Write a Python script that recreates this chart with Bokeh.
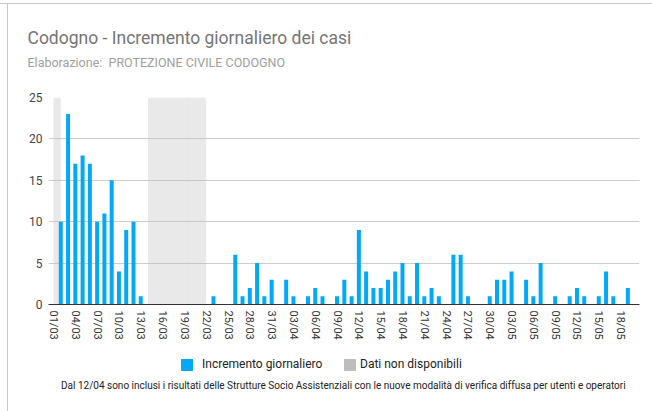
from bokeh.plotting import figure
from bokeh.models import ColumnDataSource, FixedTicker, Title, Range1d, Div
from bokeh.layouts import column
from bokeh.embed import file_html
from bokeh.resources import INLINE

# ---- data ----
dates = [
    "01/03", "02/03", "03/03", "04/03", "05/03", "06/03", "07/03", "08/03", "09/03", "10/03",
    "11/03", "12/03", "13/03", "14/03", "15/03", "16/03", "17/03", "18/03", "19/03", "20/03",
    "21/03", "22/03", "23/03", "24/03", "25/03", "26/03", "27/03", "28/03", "29/03", "30/03",
    "31/03", "01/04", "02/04", "03/04", "04/04", "05/04", "06/04", "07/04", "08/04", "09/04",
    "10/04", "11/04", "12/04", "13/04", "14/04", "15/04", "16/04", "17/04", "18/04", "19/04",
    "20/04", "21/04", "22/04", "23/04", "24/04", "25/04", "26/04", "27/04", "28/04", "29/04",
    "30/04", "01/05", "02/05", "03/05", "04/05", "05/05", "06/05", "07/05", "08/05", "09/05",
    "10/05", "11/05", "12/05", "13/05", "14/05", "15/05", "16/05", "17/05", "18/05", "19/05",
]
incremento = [
    0, 10, 23, 17, 18, 17, 10, 11, 15, 4,
    9, 10, 1, 0, 0, 0, 0, 0, 0, 0,
    0, 0, 1, 0, 0, 6, 1, 2, 5, 1,
    3, 0, 3, 1, 0, 1, 2, 1, 0, 1,
    3, 1, 9, 4, 2, 2, 3, 4, 5, 1,
    5, 1, 2, 1, 0, 6, 6, 1, 0, 0,
    1, 3, 3, 4, 0, 3, 1, 5, 0, 1,
    0, 1, 2, 1, 0, 1, 4, 1, 0, 2,
]
non_disponibili = ["01/03", "14/03", "15/03", "16/03", "17/03", "18/03", "19/03", "20/03", "21/03"]
y_ticks = [0, 5, 10, 15, 20, 25]
tick_every = 3

title_text = "Codogno - Incremento giornaliero dei casi"
subtitle_text = "Elaborazione:  PROTEZIONE CIVILE CODOGNO"
legend_labels = ["Incremento giornaliero", "Dati non disponibili"]
note_text = ("Dal 12/04 sono inclusi i risultati delle Strutture Socio Assistenziali "
             "con le nuove modalità di verifica diffusa per utenti e operatori")

BLUE = "#03a9f4"
GREY = "#bdbdbd"
FONT = "Roboto"

idx = list(range(len(dates)))
src = ColumnDataSource(dict(x=idx, top=incremento))
gap_x = [dates.index(d) + 0.5 for d in non_disponibili]
gap_src = ColumnDataSource(dict(x=gap_x, top=[max(y_ticks)] * len(gap_x)))

p = figure(width=652, height=355, output_backend="svg", toolbar_location=None,
           x_range=Range1d(-0.69, 80.6), y_range=Range1d(0, 25),
           min_border_left=48, min_border_right=13, min_border_top=97, min_border_bottom=51)
p.outline_line_color = None
p.background_fill_color = "white"
p.border_fill_color = "white"

p.vbar(x="x", top="top", width=1.0, source=gap_src, fill_color=GREY, fill_alpha=0.33,
       line_color=None)
p.vbar(x="x", top="top", width=0.55, source=src, fill_color=BLUE, line_color=None)

# axes
p.xaxis.ticker = FixedTicker(ticks=idx[::tick_every])
p.xaxis.major_label_overrides = {i: dates[i] for i in idx[::tick_every]}
p.xaxis.major_label_orientation = "vertical"
p.xaxis.major_label_text_font = FONT
p.xaxis.major_label_text_font_size = "11px"
p.xaxis.major_label_text_color = "#333333"
p.xaxis.major_tick_line_color = None
p.xaxis.minor_tick_line_color = None
p.xaxis.major_tick_out = 0
p.xaxis.minor_tick_out = 0
p.xaxis.axis_line_color = "#333333"
p.xaxis.major_label_standoff = 6

p.yaxis.ticker = FixedTicker(ticks=y_ticks)
p.yaxis.major_label_text_font = FONT
p.yaxis.major_label_text_font_size = "12px"
p.yaxis.major_label_text_color = "#444444"
p.yaxis.axis_line_color = None
p.yaxis.major_tick_line_color = None
p.yaxis.minor_tick_line_color = None
p.yaxis.major_tick_out = 0
p.yaxis.minor_tick_out = 0
p.yaxis.major_label_standoff = 6

p.xgrid.grid_line_color = None
p.ygrid.ticker = FixedTicker(ticks=y_ticks[1:])
p.ygrid.grid_line_color = "#cccccc"
p.ygrid.grid_line_width = 1

# titles (above): first added sits closest to the plot
p.add_layout(Title(text=" ", text_font_size="1px", standoff=25), "above")
p.add_layout(Title(text=subtitle_text.replace("  ", " \u00a0"), align="left", offset=-21,
                   standoff=0, text_font=FONT, text_font_size="12.5px", text_color="#9e9e9e",
                   text_font_style="normal"), "above")
p.add_layout(Title(text=title_text, align="left", offset=-21, standoff=10,
                   text_font=FONT, text_font_size="17.5px", text_color="#757575",
                   text_font_style="normal"), "above")

# legend and footnote below the chart (plus the thin frame of the original card)
sq = "position:absolute;top:4px;width:12px;height:12px;"
tx = "position:absolute;top:1px;line-height:16px;white-space:nowrap;"
legend_html = (
    f'<div style="position:relative;width:652px;height:23px;font-family:{FONT};'
    f'font-size:12px;color:#222222;">'
    '<span style="position:absolute;left:0px;top:-352px;width:652px;height:1px;'
    'background:#c8c8c8;"></span>'
    '<span style="position:absolute;left:7px;top:-351px;width:1px;height:407px;'
    'background:#c8c8c8;"></span>'
    f'<span style="{sq}left:181px;background:{BLUE};"></span>'
    f'<span style="{tx}left:202px;">{legend_labels[0]}</span>'
    f'<span style="{sq}left:344px;background:{GREY};"></span>'
    f'<span style="{tx}left:360px;">{legend_labels[1]}</span>'
    '</div>'
)
legend_div = Div(text=legend_html, width=652, height=23, margin=0)

note_html = (
    f'<div style="position:relative;width:652px;height:33px;font-family:{FONT};'
    f'font-size:10px;color:#222222;">'
    '<span style="position:absolute;left:7px;top:0px;width:1px;height:33px;'
    'background:#c8c8c8;"></span>'
    f'<span style="position:absolute;left:61px;top:1px;line-height:14px;white-space:nowrap;">'
    f'{note_text}</span></div>'
)
note_div = Div(text=note_html, width=652, height=33, margin=0)

layout = column(p, legend_div, note_div, spacing=0)

open("out.html", "w").write(file_html(layout, INLINE))
